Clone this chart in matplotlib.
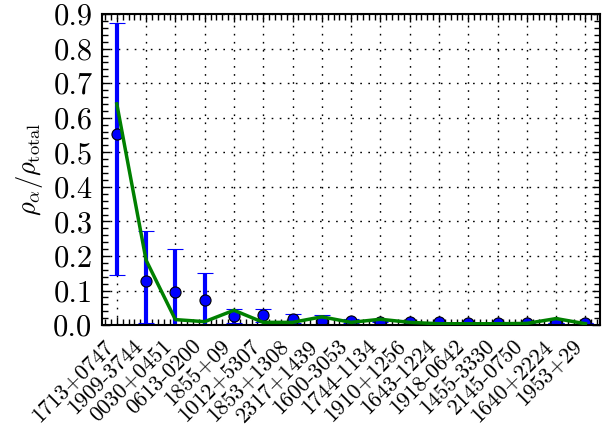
import numpy as np
import matplotlib
matplotlib.use("Agg")
import matplotlib.pyplot as plt

plt.rcParams['font.family'] = 'serif'
plt.rcParams['font.serif'] = ['cmr10']
plt.rcParams['mathtext.fontset'] = 'cm'
plt.rcParams['axes.formatter.use_mathtext'] = True

pulsars = ['1713+0747', '1909-3744', '0030+0451', '0613-0200', '1855+09',
           '1012+5307', '1853+1308', '2317+1439', '1600-3053', '1744-1134',
           '1910+1256', '1643-1224', '1918-0642', '1455-3330', '2145-0750',
           '1640+2224', '1953+29']
# measured fraction and errorbars
frac = [0.553, 0.127, 0.095, 0.072, 0.026, 0.028, 0.019, 0.012, 0.012, 0.010,
        0.009, 0.008, 0.007, 0.007, 0.006, 0.006, 0.006]
err_hi = [0.875, 0.272, 0.219, 0.150, 0.046, 0.046, 0.032, 0.030, 0.017, 0.012,
          0.010, 0.009, 0.008, 0.008, 0.007, 0.007, 0.007]
err_lo = [0.144, 0.005, 0.0, 0.0, 0.005, 0.010, 0.006, 0.0, 0.007, 0.008,
          0.008, 0.007, 0.006, 0.006, 0.005, 0.005, 0.005]
# model curve
model = [0.64, 0.188, 0.016, 0.010, 0.043, 0.008, 0.008, 0.024, 0.008, 0.017,
         0.008, 0.004, 0.004, 0.004, 0.005, 0.019, 0.004]

x = np.arange(len(pulsars))
frac = np.array(frac)
yerr = [frac - np.array(err_lo), np.array(err_hi) - frac]

fig = plt.figure(figsize=(6.08, 4.25), dpi=100)
ax = fig.add_axes([0.168, 0.235, 0.819, 0.732])

ax.errorbar(x, frac, yerr=yerr, fmt='o', color='b', ecolor='b', elinewidth=3,
            capsize=6, capthick=1.2, markersize=8, markeredgecolor='k',
            markeredgewidth=0.8, zorder=2)
ax.plot(x, model, color='g', lw=2.5, zorder=3)

ax.set_xlim(-0.5, len(pulsars) - 0.5)
ax.set_ylim(0, 0.9)
ax.set_xticks(x)
ax.set_xticklabels(pulsars, rotation=45, ha='right', fontsize=16)
ax.set_yticks(np.arange(0, 0.91, 0.1))
ax.set_yticklabels(['%.1f' % v for v in np.arange(0, 0.91, 0.1)], fontsize=22)
ax.set_ylabel(r'$\rho_\alpha/\rho_{\rm total}$', fontsize=19, labelpad=6)

ax.minorticks_on()
ax.tick_params(which='both', direction='in', top=True, right=True)
ax.tick_params(which='major', length=6, width=1)
ax.tick_params(which='minor', length=4, width=1)
ax.tick_params(axis='y', which='major', pad=7)
ax.tick_params(axis='x', which='major', pad=8)
ax.grid(True, which='major', color='k', linestyle=(0, (1.2, 4.6)), lw=1)
for s in ax.spines.values():
    s.set_linewidth(1.5)

fig.savefig('out.png', dpi=100)
